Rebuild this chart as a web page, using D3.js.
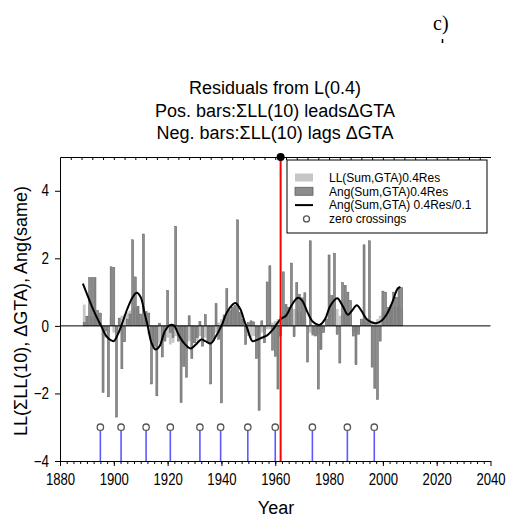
<!DOCTYPE html>
<html><head><meta charset="utf-8">
<script src="https://cdn.jsdelivr.net/npm/d3@7"></script>
<style>
body{margin:0;background:#fff}
svg{display:block}
text{font-family:"Liberation Sans",Arial,sans-serif;fill:#000}
</style>
</head><body>
<svg id="chart" width="508" height="517"></svg>
<script>
// Residual series, one value per year starting at firstYear
const firstYear = 1889;
const angValues = [
  0.1, 0.28, 1.43, 1.43, 1.43, 0.45, 0.38, -1.97, -0.15, -2.1,
  1.75, 1.73, -2.7, 0.23, -1.27, -0.47, 0.2, 0.35, 2.55, 1.45,
  0.58, 0.35, 2.72, 0.42, 0.38, -1.72, -0.6, -2.07, 0.08, -0.92,
  -0.45, 1.05, -0.2, -0.35, 2.95, -0.45, -2.27, -1.2, -1.52, 0.3,
  -0.97, -0.5, -0.35, 0.13, -0.6, 0.33, -0.5, -1.72, -0.45, 0.66,
  -0.4, -2.28, 0.3, 1.1, 0.45, 0.55, 0.6, 3.14, 0.4, 0.2,
  -0.55, 0.1, 0.15, 0.12, -0.97, -2.5, 0.15, -0.5, 1.3, 1.78,
  -0.72, -0.9, -1.87, -0.3, 1.6, 0.63, 0.55, 1.86, -0.32, 1.28,
  0.93, 0.83, 0.98, -1.07, 2.52, -0.25, -0.3, -1.87, -0.7, -0.2,
  0.2, 2.1, 0.9, 2.15, -0.25, -1.1, 1.28, 1.2, 1.0, 0.75,
  -0.3, -1.15, -0.25, 0.2, 2.4, 0.2, 2.52, -1.22, -1.85, -2.18,
  -0.45, 1.03, 1.0, 0.55, 0.6, 1.0, 0.85, 1.13, 1.13
];
const llValues = [
  0.63, 0.3, 0.3, 0.25, 0.3, 0.35, 0.1, -0.3, -0.35, -0.2,
  0.25, -0.2, -0.25, -0.15, 0.3, 0.35, 0.4, 0.45, 0.5, 0.55,
  0.45, 0.35, 0.2, 0.15, -0.25, -0.45, -0.6, -0.55, -0.5, -0.4,
  -0.3, -0.35, -0.55, -0.5, -0.3, -0.35, -0.45, -0.55, -0.5, -0.45,
  -0.4, -0.5, -0.45, -0.3, -0.5, -0.35, -0.5, -0.4, -0.35, -0.2,
  0.1, 0.2, 0.35, 0.45, 0.5, 0.55, 0.5, 0.45, 0.3, 0.15,
  -0.2, -0.3, -0.35, -0.3, -0.3, -0.25, -0.2, -0.15, -0.1, -0.1,
  0.1, 0.15, 0.2, 0.3, 0.4, 0.45, 0.5, 0.55, 0.5, 0.45,
  0.4, 0.3, 0.2, -0.1, -0.2, -0.3, -0.3, -0.25, -0.15, -0.1,
  0.2, 0.4, 0.5, 0.85, 0.5, 0.3, 0.35, 0.4, 0.35, 0.3,
  -0.2, -0.2, -0.15, 0.1, 0.15, 0.1, 0.1, 0.15, 0.1, 0.2,
  0.3, 0.4, 0.45, 0.5, 0.55, 0.6, 0.55, 0.6, 0.5
];

// Smoothed Ang residual (0.4Res/0.1)
const smoothYears = [
  1888.5, 1890, 1892, 1894, 1895.3, 1897, 1899, 1900, 1901.5, 1903,
  1905, 1907, 1908.5, 1910, 1911.5, 1912.6, 1914, 1915.5, 1917, 1919,
  1921, 1922.5, 1924, 1926, 1928.5, 1930.5, 1932.5, 1934, 1936, 1938,
  1940, 1942, 1944, 1945.2, 1947, 1948.5, 1949.5, 1951.5, 1953, 1955,
  1957, 1959, 1960.5, 1962, 1964, 1966, 1968.4, 1970, 1972, 1974,
  1976.5, 1978.5, 1980.5, 1983, 1985, 1987, 1988.5, 1990.3, 1992, 1994,
  1996, 1997.5, 1999.5, 2001.5, 2003.5, 2005.5, 2006.5
];
const smoothValues = [
  1.25, 0.95, 0.55, 0.2, 0, -0.28, -0.43, -0.45, -0.25, 0.05,
  0.5, 0.85, 0.98, 0.85, 0.35, 0, -0.5, -0.7, -0.6, -0.15,
  0.03, 0.0, -0.25, -0.5, -0.67, -0.55, -0.4, -0.45, -0.52, -0.3,
  0.0, 0.4, 0.62, 0.68, 0.5, 0.15, -0.05, -0.45, -0.42, -0.35,
  -0.28, -0.12, 0.05, 0.2, 0.3, 0.6, 0.83, 0.75, 0.4, 0.12,
  0.03, 0.2, 0.6, 0.82, 0.6, 0.33, 0.45, 0.61, 0.45, 0.2,
  0.1, 0.08, 0.15, 0.35, 0.7, 1.1, 1.15
];

const zeroCrossings = [1895, 1902.7, 1912, 1921, 1932, 1939.7, 1949.8, 1960, 1973.8, 1986.8, 1996.8];
const crossingLevel = -3;
const markerYear = 1962;

const xTickLabels = [1880, 1900, 1920, 1940, 1960, 1980, 2000, 2020, 2040];
const yTickLabels = [-4, -2, 0, 2, 4];
const titleLines = [
  "Residuals from L(0.4)",
  "Pos. bars:\u03A3LL(10) leads\u0394GTA",
  "Neg. bars:\u03A3LL(10) lags \u0394GTA"
];
const legendLabels = [
  "LL(Sum,GTA)0.4Res",
  "Ang(Sum,GTA)0.4Res",
  "Ang(Sum,GTA) 0.4Res/0.1",
  "zero crossings"
];

const svg = d3.select("#chart");
const x = d3.scaleLinear().domain([1880, 2040]).range([60, 490.5]);
const y = d3.scaleLinear().domain([-4, 5]).range([461, 157]);
const years = angValues.map((_, i) => firstYear + i);

// squeeze tick labels horizontally
function condense(sel, k) {
  sel.each(function () {
    const len = this.getComputedTextLength();
    d3.select(this).attr("textLength", len * k).attr("lengthAdjust", "spacingAndGlyphs");
  });
}

// bars: light LL behind, darker Ang in front
svg.append("g").selectAll("rect").data(llValues).join("rect")
  .attr("x", (d, i) => x(years[i]) - 1.4)
  .attr("width", 2.8)
  .attr("y", d => y(Math.max(0, d)))
  .attr("height", d => Math.abs(y(d) - y(0)))
  .attr("fill", "#c6c6c6");

svg.append("g").selectAll("rect").data(angValues).join("rect")
  .attr("x", (d, i) => x(years[i]) - 1)
  .attr("width", 2)
  .attr("y", d => y(Math.max(0, d)))
  .attr("height", d => Math.abs(y(d) - y(0)))
  .attr("fill", "#8c8c8c")
  .attr("stroke", "#5e5e5e")
  .attr("stroke-width", 0.5);

// zero line
svg.append("line")
  .attr("x1", x(1880)).attr("x2", x(2040))
  .attr("y1", y(0)).attr("y2", y(0))
  .attr("stroke", "#000").attr("stroke-width", 1);

// smoothed curve
svg.append("path")
  .datum(smoothYears.map((t, i) => [t, smoothValues[i]]))
  .attr("fill", "none")
  .attr("stroke", "#000")
  .attr("stroke-width", 2)
  .attr("d", d3.line().x(d => x(d[0])).y(d => y(d[1])).curve(d3.curveCatmullRom.alpha(0.5)));

// zero-crossing stems and markers
const zc = svg.append("g");
zc.selectAll("line").data(zeroCrossings).join("line")
  .attr("x1", d => x(d)).attr("x2", d => x(d))
  .attr("y1", y(crossingLevel) + 3).attr("y2", y(-4))
  .attr("stroke", "#5a5aff").attr("stroke-width", 1.6);
zc.selectAll("circle").data(zeroCrossings).join("circle")
  .attr("cx", d => x(d)).attr("cy", y(crossingLevel)).attr("r", 3.2)
  .attr("fill", "#fff").attr("stroke", "#555").attr("stroke-width", 1.3);

// axes
const bottom = svg.append("g").attr("transform", `translate(0,${y(-4)})`)
  .call(d3.axisBottom(x).tickValues(xTickLabels).tickSize(5).tickSizeOuter(0).tickFormat(d3.format("d")));
bottom.selectAll("text").attr("y", 12.5).attr("font-size", 16).attr("font-family", "Liberation Sans");
condense(bottom.selectAll("text"), 0.82);
svg.append("g").attr("transform", `translate(0,${y(-4)})`)
  .call(d3.axisBottom(x).tickValues(d3.range(1882.5, 2040, 2.5)).tickSize(3).tickFormat(""))
  .call(g => g.select(".domain").remove());

const left = svg.append("g").attr("transform", `translate(${x(1880)},0)`)
  .call(d3.axisLeft(y).tickValues(yTickLabels).tickSize(5).tickSizeOuter(0));
left.selectAll("text").attr("x", -11).attr("font-size", 16).attr("font-family", "Liberation Sans");
condense(left.selectAll("text"), 0.84);

// top frame line with inward ticks
svg.append("g").attr("transform", `translate(0,${y(5)})`)
  .call(d3.axisBottom(x).tickValues(d3.range(1884, 2040, 4)).tickSize(3).tickSizeOuter(0).tickFormat(""));

svg.selectAll(".domain").attr("stroke", "#000");
svg.selectAll(".tick line").attr("stroke", "#000");

// reference year marker
svg.append("line")
  .attr("x1", x(markerYear)).attr("x2", x(markerYear))
  .attr("y1", y(5)).attr("y2", y(-4))
  .attr("stroke", "#ff0000").attr("stroke-width", 2);
svg.append("circle")
  .attr("cx", x(markerYear)).attr("cy", y(5)).attr("r", 4).attr("fill", "#000");

// legend
const lg = svg.append("g");
lg.append("rect").attr("x", 287).attr("y", 160).attr("width", 200).attr("height", 73)
  .attr("fill", "#fff").attr("stroke", "#000").attr("stroke-width", 1);
const rowY = i => 177.5 + i * 13.8;
lg.append("rect").attr("x", 295).attr("y", rowY(0) - 4).attr("width", 18).attr("height", 8).attr("fill", "#c6c6c6");
lg.append("rect").attr("x", 295).attr("y", rowY(1) - 4).attr("width", 18).attr("height", 8)
  .attr("fill", "#8c8c8c").attr("stroke", "#5e5e5e").attr("stroke-width", 0.8);
lg.append("line").attr("x1", 295).attr("x2", 313).attr("y1", rowY(2)).attr("y2", rowY(2))
  .attr("stroke", "#000").attr("stroke-width", 2);
lg.append("circle").attr("cx", 306.5).attr("cy", rowY(3)).attr("r", 3)
  .attr("fill", "#fff").attr("stroke", "#555").attr("stroke-width", 1.3);
lg.selectAll("text.lab").data(legendLabels).join("text").attr("class", "lab")
  .attr("x", 329).attr("y", (d, i) => rowY(i)).attr("dy", "0.35em")
  .attr("font-size", 12).text(d => d);

// titles
svg.append("g").selectAll("text").data(titleLines).join("text")
  .attr("x", 275).attr("y", (d, i) => 94 + i * 22.6)
  .attr("text-anchor", "middle").attr("font-size", 18).text(d => d);

svg.append("text").attr("x", 433).attr("y", 30)
  .style("font-family", "'Liberation Serif',serif")
  .attr("font-size", 20).text("c)");
svg.append("line").attr("x1", 442.5).attr("x2", 442.5).attr("y1", 39).attr("y2", 43)
  .attr("stroke", "#000").attr("stroke-width", 1.6);

// axis titles
svg.append("text").attr("transform", "translate(26.5,311) rotate(-90)")
  .attr("text-anchor", "middle").attr("font-size", 18)
  .text("LL(\u03A3LL(10), \u0394GTA), Ang(same)");
svg.append("text").attr("x", 276).attr("y", 514)
  .attr("text-anchor", "middle").attr("font-size", 18).text("Year");
</script>
</body></html>
